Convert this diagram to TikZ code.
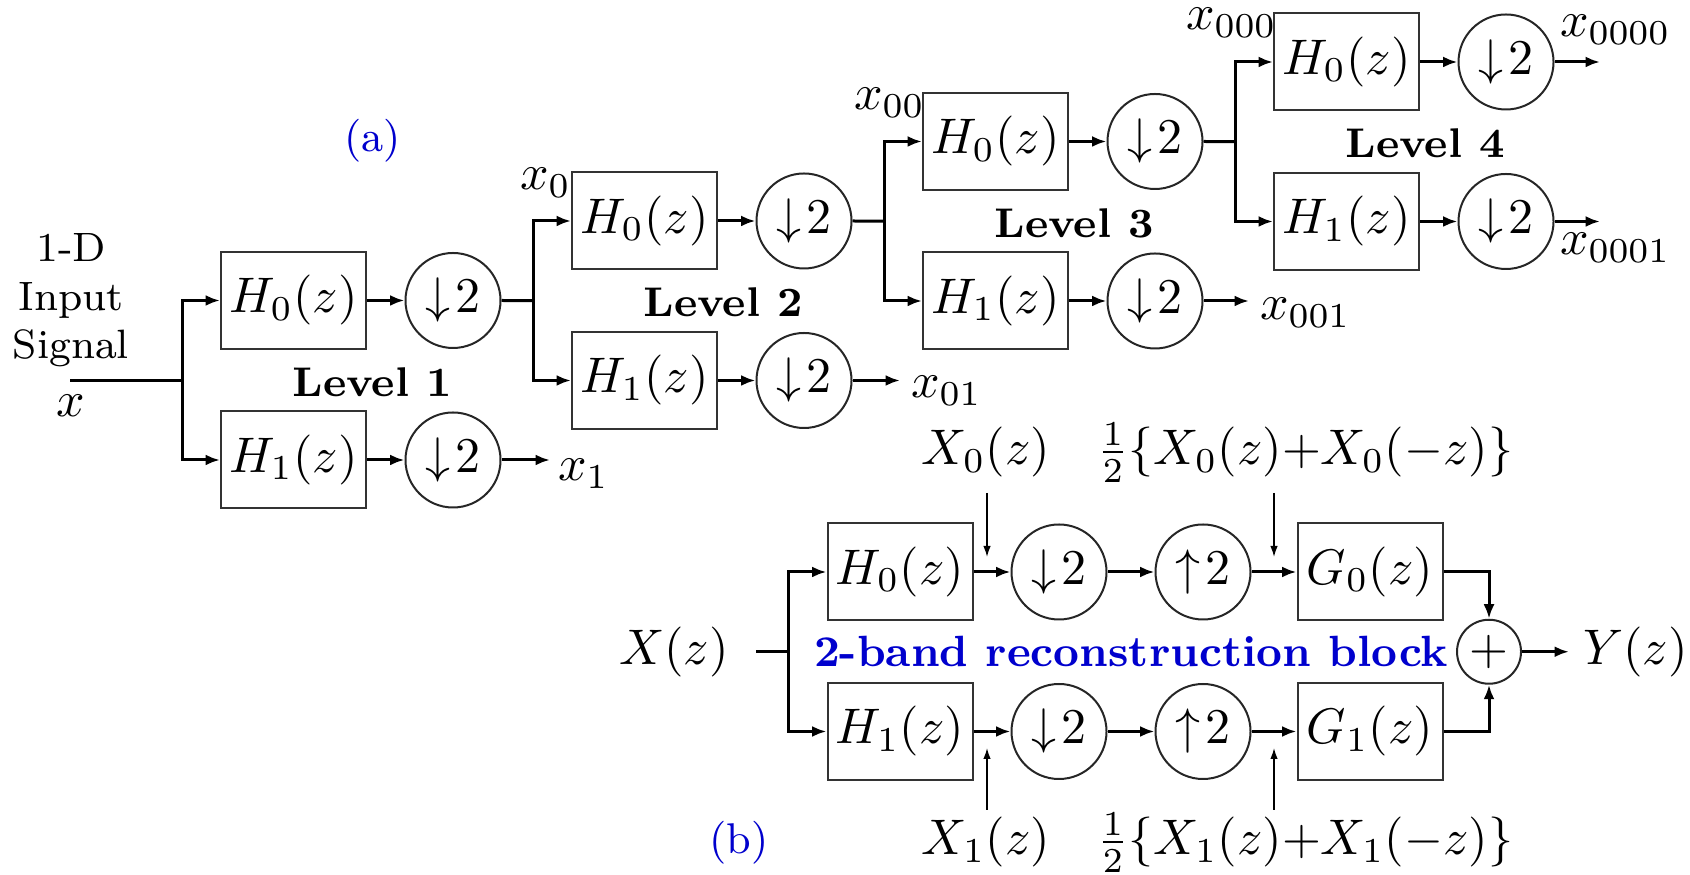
\documentclass[tikz,border=0pt]{standalone}
\usetikzlibrary{arrows.meta}
\definecolor{lblblue}{RGB}{0,0,205}
\newcommand{\dnt}{\mathord{\downarrow}\mkern2mu 2}
\newcommand{\upt}{\mathord{\uparrow}\mkern2mu 2}
\begin{document}
\begin{tikzpicture}[x=0.2pt,y=-0.2pt,
  box/.style={draw=black!80, line width=0.4pt, minimum width=29pt, minimum height=19.4pt, inner sep=0pt},
  dn/.style={draw=black!85, circle, line width=0.4pt, minimum size=19pt, inner sep=0pt},
  sumnode/.style={draw=black!85, circle, line width=0.4pt, minimum size=12.8pt, inner sep=0pt},
  sig/.style={line width=0.6pt, -{Latex[length=2.9pt,width=2.2pt]}},
  wire/.style={line width=0.6pt},
  note/.style={line width=0.3pt, -{Latex[length=2.2pt,width=1.5pt]}},
  lvl/.style={font=\fontsize{8.3}{10}\selectfont\bfseries, anchor=base, inner sep=0pt},
  lab/.style={inner sep=0pt},
]
\useasboundingbox (0,0) rectangle (1690,875);

% ---------------- (a) tree ----------------
\node[lab, anchor=base, text=lblblue, font=\fontsize{8.6}{10}\selectfont] (capa) at (372.5,152) {(a)};
\node[lab, anchor=north, align=center, font=\fontsize{8.2}{9.7}\selectfont] (insig) at (71,233) {1-D\\Input\\Signal};
\node[lab, anchor=base] (xin) at (71,417) {$x$};
\coordinate (in) at (70,380.25);

\foreach \k/\bx/\cx/\brx/\yt in {1/293.5/453/182/300.5, 2/644.5/804/533/221, 3/995.5/1155/884/141.5, 4/1346.5/1506/1235/62} {
  \node[box] (h0\k) at (\bx,\yt) {$H_0(z)$};
  \node[box] (h1\k) at (\bx,{\yt+159.5}) {$H_1(z)$};
  \node[dn] (d0\k) at (\cx,\yt) {$\dnt$};
  \node[dn] (d1\k) at (\cx,{\yt+159.5}) {$\dnt$};
  \coordinate (br\k) at (\brx,{\yt+79.75});
  \draw[sig] (h0\k) -- (d0\k);
  \draw[sig] (h1\k) -- (d1\k);
  \draw[sig] (br\k) |- (h0\k.west);
  \draw[sig] (br\k) |- (h1\k.west);
}
\draw[wire] (in) -- (br1);
\draw[wire] (d01.east) -- (br2);
\draw[wire] (d02.east) -- (br3);
\draw[wire] (d03.east) -- (br4);

\node[lvl] (lv1) at (372,396.7) {Level 1};
\node[lvl] (lv2) at (723,316.7) {Level 2};
\node[lvl] (lv3) at (1074,237.5) {Level 3};
\node[lvl] (lv4) at (1425,158) {Level 4};

\coordinate (o1) at (550,460);
\coordinate (o2) at (900,380.5);
\coordinate (o3) at (1249,301);
\coordinate (o4a) at (1600,62);
\coordinate (o4b) at (1600,221.5);
\draw[sig] (d11.east) -- (o1);
\draw[sig] (d12.east) -- (o2);
\draw[sig] (d13.east) -- (o3);
\draw[sig] (d04.east) -- (o4a);
\draw[sig] (d14.east) -- (o4b);

\node[lab, anchor=base west] (lx1) at (557,481) {$x_1$};
\node[lab, anchor=base west] (lx01) at (910,398) {$x_{01}$};
\node[lab, anchor=base west] (lx001) at (1259,320) {$x_{001}$};
\node[lab, anchor=base west] (lx0000) at (1559,37) {$x_{0000}$};
\node[lab, anchor=base west] (lx0001) at (1559,255) {$x_{0001}$};
\node[lab, anchor=base west] (lx0) at (519,190) {$x_0$};
\node[lab, anchor=base west] (lx00) at (853,110) {$x_{00}$};
\node[lab, anchor=base west] (lx000) at (1185,30) {$x_{000}$};

% ---------------- (b) 2-band block ----------------
\node[lab, anchor=base] (Xz) at (674,665) {$X(z)$};
\coordinate (bin) at (756,651.75);
\coordinate (bb) at (788,651.75);
\node[box] (hb0) at (900,572) {$H_0(z)$};
\node[box] (hb1) at (900,731.5) {$H_1(z)$};
\node[dn] (db0) at (1059,572) {$\dnt$};
\node[dn] (db1) at (1059,731.5) {$\dnt$};
\node[dn] (ub0) at (1203,572) {$\upt$};
\node[dn] (ub1) at (1203,731.5) {$\upt$};
\node[box] (g0) at (1370,572) {$G_0(z)$};
\node[box] (g1) at (1370,731.5) {$G_1(z)$};
\node[sumnode] (sum) at (1489,651.75) {$+$};
\coordinate (yout) at (1569,651.75);
\node[lab, anchor=base west] (Yz) at (1582,665) {$Y(z)$};

\draw[wire] (bin) -- (bb);
\draw[sig] (bb) |- (hb0.west);
\draw[sig] (bb) |- (hb1.west);
\draw[sig] (hb0) -- (db0);
\draw[sig] (db0) -- (ub0);
\draw[sig] (ub0) -- (g0);
\draw[sig] (hb1) -- (db1);
\draw[sig] (db1) -- (ub1);
\draw[sig] (ub1) -- (g1);
\draw[sig] (g0.east) -| (sum.north);
\draw[sig] (g1.east) -| (sum.south);
\draw[sig] (sum.east) -- (yout);

\node[lab, anchor=base, text=lblblue, font=\fontsize{8.75}{10}\selectfont\bfseries] (blk) at (1131,667) {2-band reconstruction block};

\node[lab, anchor=base] (lX0) at (986,465) {$X_0(z)$};
\node[lab, anchor=base] (lF0) at (1305,465) {$\frac{1}{2}\{X_0(z){+}X_0(-z)\}$};
\node[lab, anchor=base] (lX1) at (986,855) {$X_1(z)$};
\node[lab, anchor=base] (lF1) at (1305,855) {$\frac{1}{2}\{X_1(z){+}X_1(-z)\}$};
\node[lab, anchor=base, text=lblblue, font=\fontsize{8.6}{10}\selectfont] (capb) at (739,854) {(b)};

\coordinate (t0s) at (987,493);  \coordinate (t0e) at (987,557);
\coordinate (t1s) at (1274,493); \coordinate (t1e) at (1274,557);
\coordinate (b0s) at (987,810);  \coordinate (b0e) at (987,748);
\coordinate (b1s) at (1274,810); \coordinate (b1e) at (1274,748);
\draw[note] (t0s) -- (t0e);
\draw[note] (t1s) -- (t1e);
\draw[note] (b0s) -- (b0e);
\draw[note] (b1s) -- (b1e);
\end{tikzpicture}
\end{document}
